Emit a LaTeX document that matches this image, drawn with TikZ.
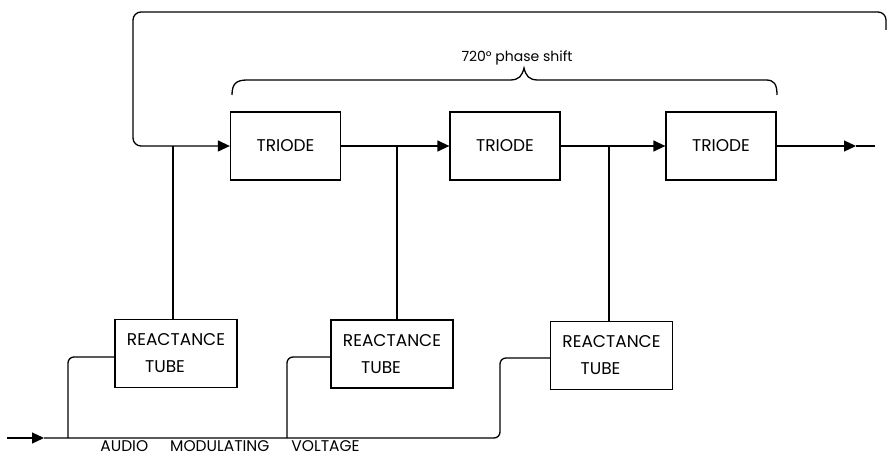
\documentclass[tikz,border=0pt]{standalone}
\usepackage{fontspec}
\setmainfont{Poppins}
\usetikzlibrary{arrows.meta}
\begin{document}
\begin{tikzpicture}[x=1pt,y=-1pt,
  blk/.style={draw, line width=1.3pt, minimum width=110pt, minimum height=68pt, inner sep=0pt, font=\fontsize{17}{19}\selectfont},
  rblk/.style={blk, minimum width=122pt, align=center, font=\fontsize{17}{27}\selectfont},
  wire/.style={line width=1.3pt},
  arr/.style={wire, -{Triangle[length=12pt,width=11pt]}},
  lbl/.style={inner sep=0pt, font=\fontsize{15.5}{17}\selectfont}]
\useasboundingbox (0,0) rectangle (890,457);
% triodes
\node[blk] (T1) at (285.5,146) {TRIODE};
\node[blk] (T2) at (505,146) {TRIODE};
\node[blk] (T3) at (721,146) {TRIODE};
% reactance tubes
\node[rblk] (R1) at (176,353.5) {REACTANCE\\\hspace*{-22pt}TUBE};
\node[rblk] (R2) at (392,354) {REACTANCE\\\hspace*{-22pt}TUBE};
\node[rblk] (R3) at (611.5,355.5) {REACTANCE\\\hspace*{-22pt}TUBE};
% junction coordinates
\coordinate (j1) at (173,146);
\coordinate (j2) at (397,146);
\coordinate (j3) at (609,146);
% feedback loop
\coordinate (fb) at (886,30);
\draw[arr, rounded corners=8pt] (fb) -- (886,12) -- (133,12) -- (133,146) -- (T1.west);
% triode chain
\draw[arr] (T1.east) -- (T2.west);
\draw[arr] (T2.east) -- (T3.west);
\coordinate (otip) at (856,146);
\coordinate (oend) at (875,146);
\draw[arr] (T3.east) -- (otip);
\draw[wire] (otip) -- (oend);
% verticals to reactance tubes
\draw[wire] (j1) -- (j1 |- R1.north);
\draw[wire] (j2) -- (j2 |- R2.north);
\draw[wire] (j3) -- (j3 |- R3.north);
% audio input
\coordinate (ain) at (7,438);
\coordinate (atip) at (44,438);
\coordinate (b1) at (68,438);
\coordinate (b2) at (287,438);
\draw[arr] (ain) -- (atip);
\draw[wire, rounded corners=6pt] (atip) -- (500,438) -- (500,358) -- ([yshift=-2.5pt]R3.west);
\draw[wire, rounded corners=6pt] (b1) |- ([yshift=-3.5pt]R1.west);
\draw[wire, rounded corners=6pt] (b2) |- ([yshift=-3pt]R2.west);
\node[lbl, anchor=base] (aud) at (230,451) {AUDIO\hspace{22pt}MODULATING\hspace{22pt}VOLTAGE};
% brace
\draw[wire] (232,95) .. controls (232,84) and (236,80) .. (247,80) -- (510,80)
  .. controls (519,80) and (522,76) .. (524,68)
  .. controls (526,76) and (529,80) .. (538,80) -- (766,80)
  .. controls (774,80) and (777,84) .. (777,95);
\node[lbl, anchor=base, font=\fontsize{14}{16}\selectfont] (ph) at (517,62) {720° phase shift};
\end{tikzpicture}
\end{document}
